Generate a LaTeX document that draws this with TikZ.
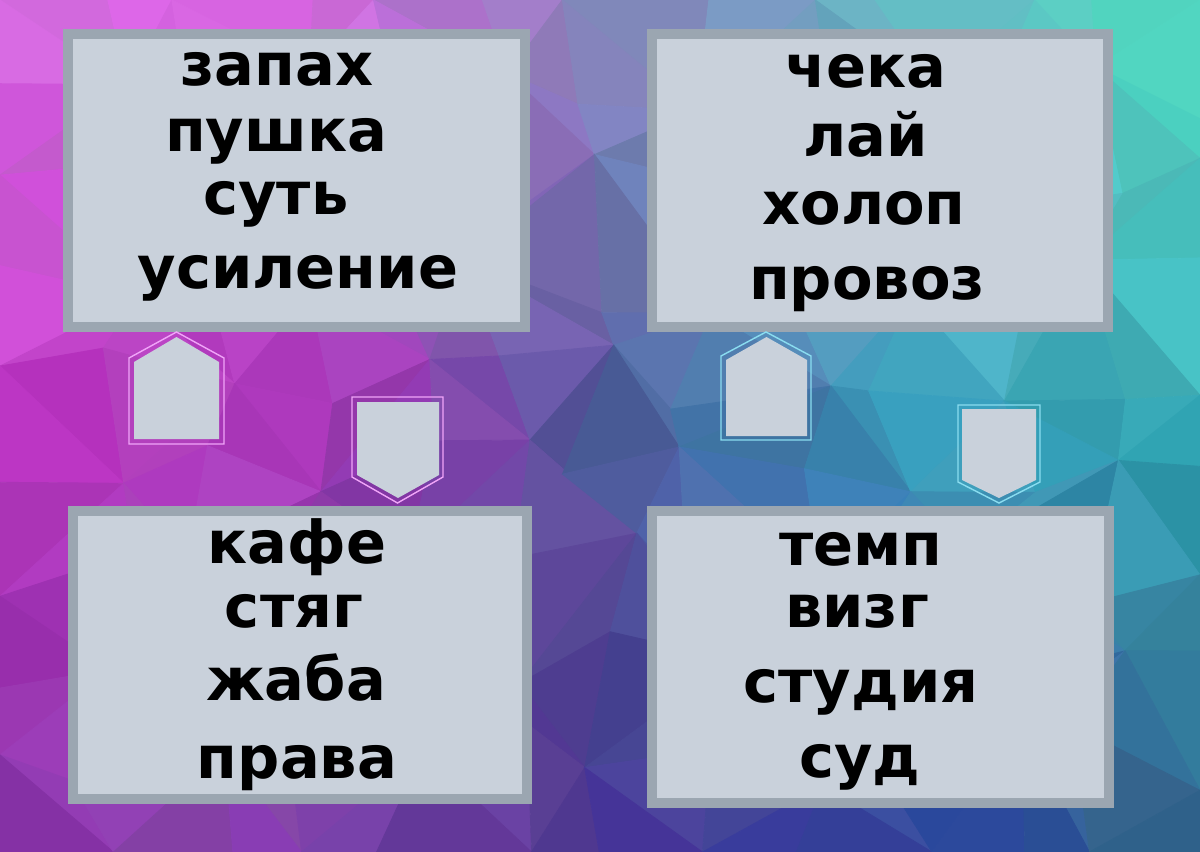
\documentclass[tikz,border=0pt]{standalone}
\usepackage{fontspec}
\setmainfont{DejaVu Sans}
\definecolor{boxfill}{HTML}{C9D1DB}
\definecolor{boxline}{HTML}{9BA6B1}
\definecolor{pinkline}{HTML}{F0A4F8}
\definecolor{cyanline}{HTML}{8ADDF0}
\definecolor{g00}{HTML}{E46CF2}
\definecolor{g10}{HTML}{E666F0}
\definecolor{g20}{HTML}{9A88CC}
\definecolor{g30}{HTML}{6CCCD8}
\definecolor{g40}{HTML}{50ECC8}
\definecolor{g01}{HTML}{CC34D2}
\definecolor{g11}{HTML}{A830BA}
\definecolor{g21}{HTML}{4C58A0}
\definecolor{g31}{HTML}{36A0C4}
\definecolor{g41}{HTML}{30B4C0}
\definecolor{g02}{HTML}{8A2CB0}
\definecolor{g12}{HTML}{8442B4}
\definecolor{g22}{HTML}{452C96}
\definecolor{g32}{HTML}{2A3AA8}
\definecolor{g42}{HTML}{275C85}
\newcommand\polycol[2]{%
  \pgfmathsetmacro\bgu{min(max((#1)/300,0),3.999)}%
  \pgfmathsetmacro\bgv{min(max((#2)/426,0),1.999)}%
  \pgfmathtruncatemacro\bgi{floor(\bgu)}%
  \pgfmathtruncatemacro\bgj{floor(\bgv)}%
  \pgfmathtruncatemacro\bgii{\bgi+1}%
  \pgfmathtruncatemacro\bgjj{\bgj+1}%
  \pgfmathsetmacro\bgwx{100*(1-\bgu+\bgi)}%
  \pgfmathsetmacro\bgwy{100*(1-\bgv+\bgj)}%
  \colorlet{ctop}{g\bgi\bgj!\bgwx!g\bgii\bgj}%
  \colorlet{cbot}{g\bgi\bgjj!\bgwx!g\bgii\bgjj}%
  \colorlet{cf}{ctop!\bgwy!cbot}%
  \pgfmathsetmacro\bgwl{91+rnd*9}%
  \pgfmathsetmacro\bgwk{89+rnd*11}%
  \colorlet{cf}{cf!\bgwl!white}%
  \colorlet{cf}{cf!\bgwk!black}%
}
\begin{document}
\begin{tikzpicture}[x=0.025cm,y=-0.025cm]
		\tikzstyle{every node}+=[inner sep=0pt]
		\tikzstyle{word}=[font=\fontsize{42}{48}\selectfont\bfseries, anchor=base]
		\tikzstyle{card}=[draw=boxline, fill=boxfill, line width=7.1pt]
		\useasboundingbox (0,0) rectangle (1200,852);
		\clip (0,0) rectangle (1200,852);
		\pgfmathsetseed{11}
		\foreach \i in {0,...,12}
		  \foreach \j in {0,...,9}{
		    \pgfmathsetmacro\px{\i*100+(\i>0)*(\i<12)*rand*38}
		    \pgfmathsetmacro\py{\j*94.67+(\j>0)*(\j<9)*rand*36}
		    \coordinate (p-\i-\j) at (\px,\py);
		  }
		\foreach \i in {0,...,11}
		  \foreach \j in {0,...,8}{
		    \pgfmathtruncatemacro\nx{\i+1}
		    \pgfmathtruncatemacro\ny{\j+1}
		    \pgfmathtruncatemacro\dg{mod(\i+\j,2)}
		    \ifnum\dg=0
		      \polycol{\i*100+67}{\j*94.67+32}
		      \filldraw [cf, line width=0.6pt] (p-\i-\j) -- (p-\nx-\j) -- (p-\nx-\ny) -- cycle;
		      \polycol{\i*100+33}{\j*94.67+63}
		      \filldraw [cf, line width=0.6pt] (p-\i-\j) -- (p-\i-\ny) -- (p-\nx-\ny) -- cycle;
		    \else
		      \polycol{\i*100+33}{\j*94.67+32}
		      \filldraw [cf, line width=0.6pt] (p-\i-\j) -- (p-\nx-\j) -- (p-\i-\ny) -- cycle;
		      \polycol{\i*100+67}{\j*94.67+63}
		      \filldraw [cf, line width=0.6pt] (p-\nx-\j) -- (p-\nx-\ny) -- (p-\i-\ny) -- cycle;
		    \fi
		  }
		\draw [card] (68,34) rectangle (525,327);
		\draw [card] (652,34) rectangle (1108,327);
		\draw [card] (73,511) rectangle (527,799);
		\draw [card] (652,511) rectangle (1109,803);
		\node [word] (tl1) at (277,86) {запах};
		\node [word] (tl2) at (276,152) {пушка};
		\node [word] (tl3) at (276,215) {суть};
		\node [word] (tl4) at (298,288) {усиление};
		\node [word] (tr1) at (866,88) {чека};
		\node [word] (tr2) at (866,157) {лай};
		\node [word] (tr3) at (864,225) {холоп};
		\node [word] (tr4) at (867,300) {провоз};
		\node [word] (bl1) at (297,563) {кафе};
		\node [word] (bl2) at (294,627) {стяг};
		\node [word] (bl3) at (296,700) {жаба};
		\node [word] (bl4) at (297,778) {права};
		\node [word] (br1) at (861,565) {темп};
		\node [word] (br2) at (857,627) {визг};
		\node [word] (br3) at (861,702) {студия};
		\node [word] (br4) at (860,777) {суд};
		\fill [boxfill] (134,439) -- (134,362) -- (176.5,337) -- (219,362) -- (219,439) -- cycle;
		\draw [pinkline, line width=1pt] (129,444) -- (129,358) -- (176.5,332) -- (224,358) -- (224,444) -- cycle;
		\fill [boxfill] (357,402) -- (439,402) -- (439,475) -- (398,498) -- (357,475) -- cycle;
		\draw [pinkline, line width=1pt] (352,397) -- (443,397) -- (443,477) -- (397.5,503) -- (352,477) -- cycle;
		\fill [boxfill] (726,436) -- (726,360) -- (766.5,337) -- (807,360) -- (807,436) -- cycle;
		\draw [cyanline, line width=1pt] (721,440) -- (721,356) -- (766,332) -- (811,356) -- (811,440) -- cycle;
		\fill [boxfill] (962,409) -- (1036,409) -- (1036,480) -- (999,498) -- (962,480) -- cycle;
		\draw [cyanline, line width=1pt] (958,405) -- (1040,405) -- (1040,482) -- (999,503) -- (958,482) -- cycle;
\end{tikzpicture}
\end{document}
